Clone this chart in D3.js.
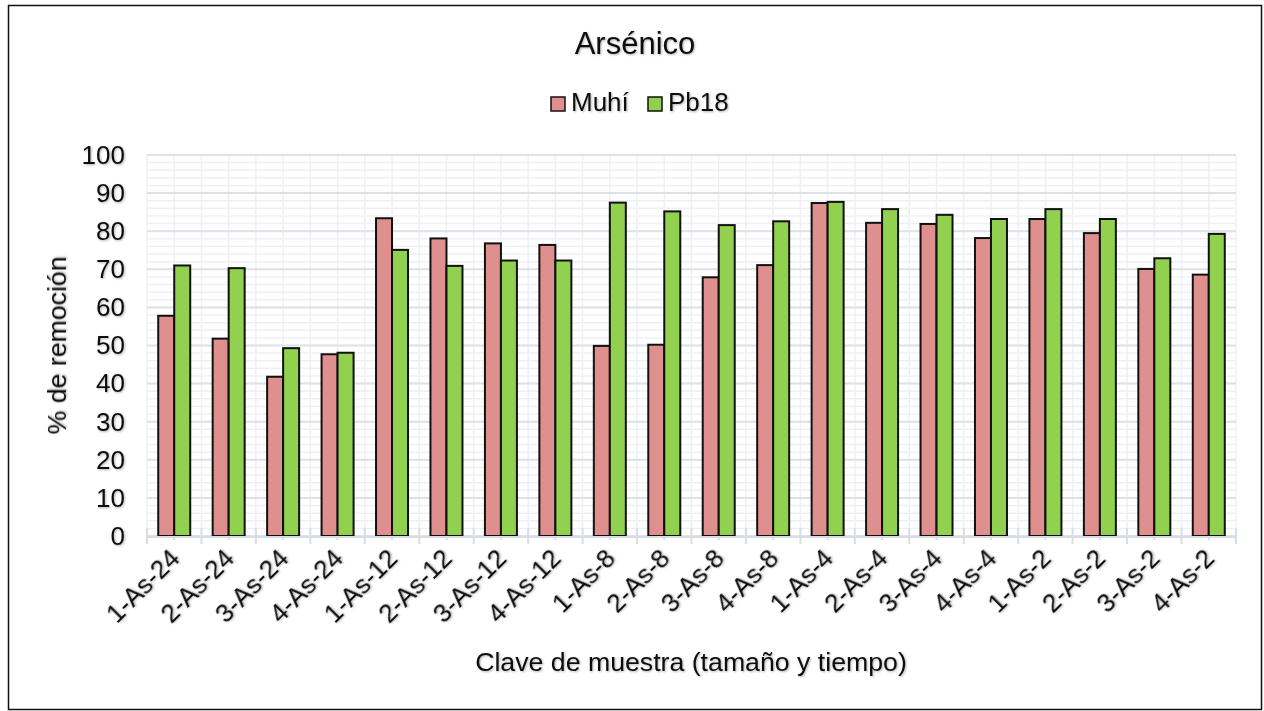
<!DOCTYPE html>
<html>
<head>
<meta charset="utf-8">
<script src="https://cdn.jsdelivr.net/npm/d3@7"></script>
<style>
  body { margin: 0; background: #fff; }
  svg { display: block; font-family: "Liberation Sans", Arial, sans-serif; }
</style>
</head>
<body>
<div id="chart"></div>
<script>
  // sample keys (size and time)
  const categories = ['1-As-24', '2-As-24', '3-As-24', '4-As-24', '1-As-12', '2-As-12', '3-As-12', '4-As-12',
    '1-As-8', '2-As-8', '3-As-8', '4-As-8', '1-As-4', '2-As-4', '3-As-4', '4-As-4',
    '1-As-2', '2-As-2', '3-As-2', '4-As-2'];
  const muhi = [57.8, 51.8, 41.8, 47.7, 83.4, 78.1, 76.8, 76.4,
    49.9, 50.2, 67.9, 71.1, 87.4, 82.2, 81.9, 78.2,
    83.2, 79.5, 70.1, 68.6];
  const pb18 = [71.0, 70.3, 49.3, 48.1, 75.1, 70.9, 72.3, 72.3,
    87.5, 85.2, 81.6, 82.6, 87.7, 85.8, 84.3, 83.2,
    85.8, 83.2, 72.9, 79.3];
  const seriesNames = ['Muhí', 'Pb18'];
  const yTicks = [0, 10, 20, 30, 40, 50, 60, 70, 80, 90, 100];

  const width = 1264, height = 711;
  const margin = { left: 147, right: 28, top: 155, bottom: 175 };
  const colors = { 'Muhí': '#e08f8f', 'Pb18': '#92d050' };

  const svg = d3.select('#chart').append('svg')
    .attr('width', width)
    .attr('height', height);

  // soft text shadow like the original
  const filt = svg.append('defs').append('filter').attr('id', 'shadow')
    .attr('x', '-10%').attr('y', '-10%').attr('width', '130%').attr('height', '140%');
  filt.append('feDropShadow')
    .attr('dx', 1).attr('dy', 1).attr('stdDeviation', 0.8)
    .attr('flood-color', '#000').attr('flood-opacity', 0.3);

  // outer frame
  svg.append('rect')
    .attr('x', 8.5).attr('y', 5.5)
    .attr('width', 1253).attr('height', 704)
    .attr('fill', '#fff')
    .attr('stroke', '#111')
    .attr('stroke-width', 1.5);

  const x0 = d3.scaleBand()
    .domain(categories)
    .range([margin.left, width - margin.right]);

  const y = d3.scaleLinear()
    .domain([0, 100])
    .range([height - margin.bottom, margin.top]);

  const barW = 16;
  const x1 = d3.scaleBand().domain(seriesNames).range([0, barW * 2]);

  const grid = svg.append('g');

  // minor horizontal gridlines
  grid.selectAll('line.hmin')
    .data(d3.range(0, 101, 2))
    .join('line')
    .attr('x1', margin.left).attr('x2', width - margin.right)
    .attr('y1', d => y(d)).attr('y2', d => y(d))
    .attr('stroke', '#eef0f4')
    .attr('stroke-width', 1.5);

  // vertical minor gridlines at category centres and boundaries
  const vx = [];
  categories.forEach(c => {
    vx.push(x0(c));
    vx.push(x0(c) + x0.bandwidth() / 2);
  });
  vx.push(width - margin.right);
  grid.selectAll('line.v')
    .data(vx)
    .join('line')
    .attr('x1', d => d).attr('x2', d => d)
    .attr('y1', y(0)).attr('y2', y(100))
    .attr('stroke', '#eef0f4')
    .attr('stroke-width', 1.5);

  // major horizontal gridlines
  grid.selectAll('line.hmaj')
    .data(yTicks)
    .join('line')
    .attr('x1', margin.left).attr('x2', width - margin.right)
    .attr('y1', d => y(d)).attr('y2', d => y(d))
    .attr('stroke', '#dde1e8')
    .attr('stroke-width', 2);

  // y axis labels
  const yAxis = svg.append('g')
    .attr('transform', `translate(${margin.left},0)`)
    .call(d3.axisLeft(y).tickValues(yTicks).tickSize(0).tickPadding(22));
  yAxis.select('.domain').remove();
  yAxis.selectAll('text')
    .attr('font-size', 26)
    .attr('font-family', '"Liberation Sans", Arial, sans-serif')
    .attr('fill', '#111')
    .attr('filter', 'url(#shadow)');

  // x axis tick marks
  const ticks = svg.append('g');
  ticks.selectAll('line.tb')
    .data(categories.map(c => x0(c)).concat([width - margin.right]))
    .join('line')
    .attr('x1', d => d).attr('x2', d => d)
    .attr('y1', y(0) - 8).attr('y2', y(0) + 8)
    .attr('stroke', '#d9dde4').attr('stroke-width', 2);
  ticks.selectAll('line.tc')
    .data(categories)
    .join('line')
    .attr('x1', d => x0(d) + x0.bandwidth() / 2).attr('x2', d => x0(d) + x0.bandwidth() / 2)
    .attr('y1', y(0)).attr('y2', y(0) + 4)
    .attr('stroke', '#d9dde4').attr('stroke-width', 2);

  // bars
  const groups = svg.append('g')
    .selectAll('g')
    .data(categories)
    .join('g')
    .attr('transform', d => `translate(${x0(d) + x0.bandwidth() / 2 - barW},0)`);

  groups.selectAll('rect')
    .data((d, i) => [
      { key: 'Muhí', value: muhi[i] },
      { key: 'Pb18', value: pb18[i] }
    ])
    .join('rect')
    .attr('x', d => x1(d.key))
    .attr('y', d => y(d.value))
    .attr('width', x1.bandwidth())
    .attr('height', d => y(0) - y(d.value))
    .attr('fill', d => colors[d.key])
    .attr('stroke', '#111')
    .attr('stroke-width', 2);

  // axis line over the bar bottoms
  svg.append('line')
    .attr('x1', margin.left).attr('x2', width - margin.right)
    .attr('y1', y(0) + 1).attr('y2', y(0) + 1)
    .attr('stroke', '#d9dde4').attr('stroke-width', 2);

  // x labels, rotated
  svg.append('g')
    .selectAll('text')
    .data(categories)
    .join('text')
    .attr('transform', d => `translate(${x0(d) + x0.bandwidth() / 2 + 7},${y(0) + 24}) rotate(-45)`)
    .attr('text-anchor', 'end')
    .attr('font-size', 26)
    .attr('fill', '#111')
    .attr('filter', 'url(#shadow)')
    .text(d => d);

  // title
  svg.append('text')
    .attr('x', 635).attr('y', 54)
    .attr('text-anchor', 'middle')
    .attr('font-size', 31)
    .attr('fill', '#111')
    .attr('filter', 'url(#shadow)')
    .text('Arsénico');

  // legend
  const legend = svg.append('g').attr('transform', 'translate(551,97)');
  const legendItems = legend.selectAll('g')
    .data(seriesNames)
    .join('g')
    .attr('transform', (d, i) => `translate(${i * 97},0)`);
  legendItems.append('rect')
    .attr('width', 14).attr('height', 14)
    .attr('fill', d => colors[d])
    .attr('stroke', '#111')
    .attr('stroke-width', 1.5);
  legendItems.append('text')
    .attr('x', 20).attr('y', 14)
    .attr('font-size', 26)
    .attr('fill', '#111')
    .attr('filter', 'url(#shadow)')
    .text(d => d);

  // axis titles
  svg.append('text')
    .attr('transform', `translate(66,${(y(0) + y(100)) / 2}) rotate(-90)`)
    .attr('text-anchor', 'middle')
    .attr('font-size', 26.7)
    .attr('fill', '#111')
    .attr('filter', 'url(#shadow)')
    .text('% de remoción');

  svg.append('text')
    .attr('x', 691).attr('y', 671)
    .attr('text-anchor', 'middle')
    .attr('font-size', 26.7)
    .attr('fill', '#111')
    .attr('filter', 'url(#shadow)')
    .text('Clave de muestra (tamaño y tiempo)');
</script>
</body>
</html>
